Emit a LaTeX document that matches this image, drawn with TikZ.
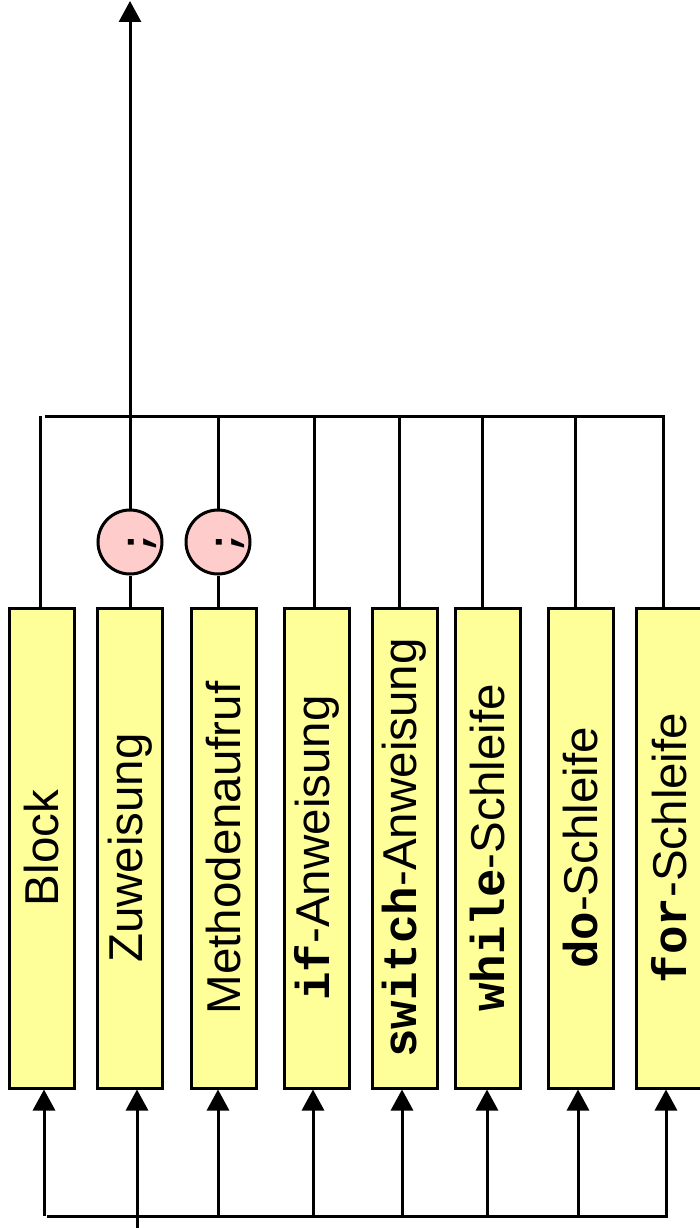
\documentclass[tikz,border=0pt]{standalone}
\usepackage{fontspec}
\setsansfont{Liberation Sans}
\newfontfamily\codefont{Liberation Mono}
\usetikzlibrary{arrows.meta}

\definecolor{boxyellow}{HTML}{FFFF99}
\definecolor{semipink}{HTML}{FFCCCC}

\newcommand{\kw}[1]{{\codefont\bfseries #1}}
\newcommand{\vtext}[1]{\rotatebox{90}{#1}}

\begin{document}
\begin{tikzpicture}[x=1pt,y=-1pt,line width=3pt,
    box/.style={draw,fill=boxyellow,minimum width=65pt,minimum height=480pt,
      inner sep=0pt,font=\sffamily\fontsize{47.5}{56}\selectfont},
    semi/.style={circle,draw,fill=semipink,minimum size=64pt,inner sep=0pt,
      font=\codefont\bfseries\fontsize{40}{48}\selectfont},
    arr/.style={-{Triangle[length=21pt,width=22pt]}}]

  \path[use as bounding box,fill=white] (0,0) rectangle (700,1228);

  % statement kinds
  \node[box] (block) at (41.5,848)  {\vtext{Block}};
  \node[box] (zuw)   at (130,848)   {\vtext{Zuweisung}};
  \node[box] (meth)  at (223.5,848) {\vtext{Methodenaufruf}};
  \node[box] (ifa)   at (316.5,848) {\vtext{\kw{if}-Anweisung}};
  \node[box] (swa)   at (404.5,848) {\vtext{\kw{switch}-Anweisung}};
  \node[box] (whs)   at (487.5,848) {\vtext{\kw{while}-Schleife}};
  \node[box] (dos)   at (580.5,848) {\vtext{\kw{do}-Schleife}};
  \node[box] (fors)  at (669,848)   {\vtext{\kw{for}-Schleife}};

  % semicolons
  \node[semi] (s1) at (130,542) {\vtext{\raisebox{-19pt}[0pt][0pt]{;}}};
  \node[semi] (s2) at (218,542) {\vtext{\raisebox{-19pt}[0pt][0pt]{;}}};

  % upper junctions
  \coordinate (j1) at (40,416);
  \coordinate (j2) at (130,416);
  \coordinate (j3) at (218,416);
  \coordinate (j4) at (314,416);
  \coordinate (j5) at (399,416);
  \coordinate (j6) at (482,416);
  \coordinate (j7) at (575,416);
  \coordinate (j8) at (663,416);
  \coordinate (jl) at (45,416);
  \coordinate (jr) at (665,416);
  \coordinate (out) at (130,1);

  % lower junctions
  \coordinate (k1) at (44,1216);
  \coordinate (k2) at (137,1216);
  \coordinate (k3) at (218,1216);
  \coordinate (k4) at (313,1216);
  \coordinate (k5) at (402,1216);
  \coordinate (k6) at (487,1216);
  \coordinate (k7) at (578,1216);
  \coordinate (k8) at (666,1216);
  \coordinate (kl) at (47,1216);
  \coordinate (kr) at (668,1216);
  \coordinate (in) at (137,1228);

  % exits
  \draw (block.north -| j1) -- (j1);
  \draw (zuw.north -| s1) -- (s1);
  \draw (s1) -- (j2);
  \draw (meth.north -| s2) -- (s2);
  \draw (s2) -- (j3);
  \draw (ifa.north -| j4) -- (j4);
  \draw (swa.north -| j5) -- (j5);
  \draw (whs.north -| j6) -- (j6);
  \draw (dos.north -| j7) -- (j7);
  \draw (fors.north -| j8) -- (j8);
  \draw (jl) -- (jr);
  \draw[arr] (j2) -- (out);

  % entries
  \draw (in) -- (k2);
  \draw (kl) -- (kr);
  \draw[arr] (k1) -- (k1 |- block.south);
  \draw[arr] (k2) -- (k2 |- zuw.south);
  \draw[arr] (k3) -- (k3 |- meth.south);
  \draw[arr] (k4) -- (k4 |- ifa.south);
  \draw[arr] (k5) -- (k5 |- swa.south);
  \draw[arr] (k6) -- (k6 |- whs.south);
  \draw[arr] (k7) -- (k7 |- dos.south);
  \draw[arr] (k8) -- (k8 |- fors.south);

\end{tikzpicture}
\end{document}
